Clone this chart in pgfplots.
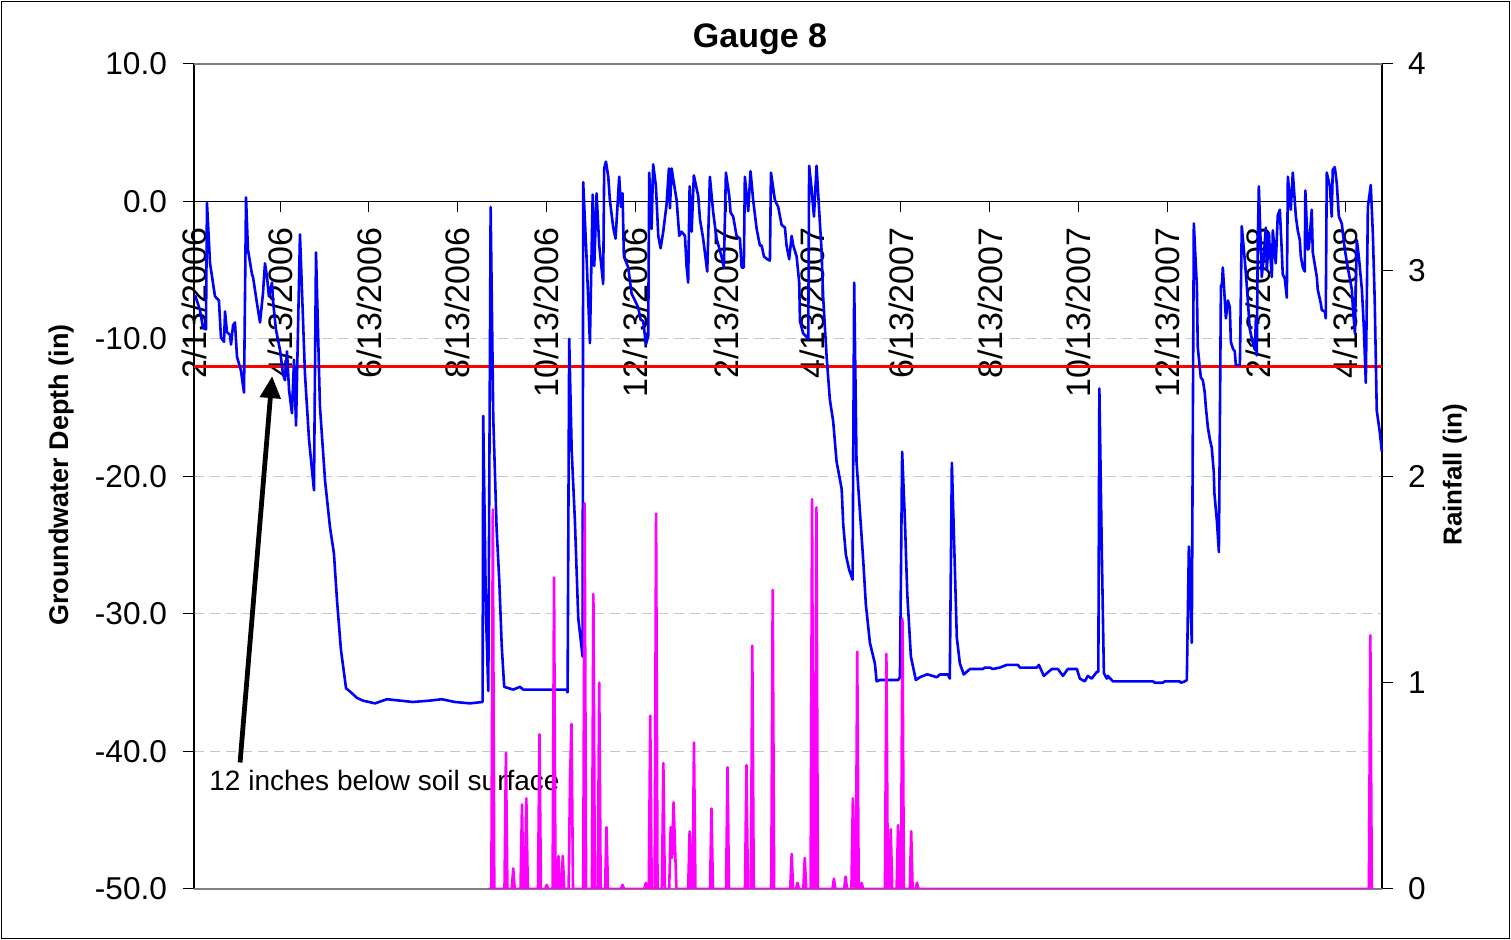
\documentclass[border=0pt]{standalone}
\usepackage{fontspec}
\setmainfont{Liberation Sans}
\usepackage{pgfplots}
\pgfplotsset{compat=1.18}
\usetikzlibrary{arrows.meta}
\definecolor{rainmag}{RGB}{255,0,255}
\definecolor{gwblue}{RGB}{0,0,255}
\definecolor{lvred}{RGB}{255,0,0}
\newcommand{\tks}{\fontsize{15.8}{18}\selectfont}
\newcommand{\xtks}{\fontsize{17}{19}\selectfont}
\begin{document}
\begin{tikzpicture}
\begin{axis}[
  set layers,
  at={(0pt,0pt)}, anchor=south west,
  scale only axis, width=594pt, height=412.5pt,
  xmin=0, xmax=815, ymin=-50, ymax=10,
  axis x line=middle, axis y line=left,
  axis line style={-, black, line width=0.6pt},
  hide obscured x ticks=false,
  xtick={0,59,120,181,242,303,365,424,485,546,607,668,730,790},
  xticklabels={2/13/2006,4/13/2006,6/13/2006,8/13/2006,10/13/2006,12/13/2006,2/13/2007,4/13/2007,6/13/2007,8/13/2007,10/13/2007,12/13/2007,2/13/2008,4/13/2008},
  xticklabel style={rotate=90, anchor=east, font=\xtks, xshift=-4pt},
  ytick={-50,-40,-30,-20,-10,0,10},
  yticklabel style={font=\tks, xshift=-4.5pt, /pgf/number format/.cd, fixed, fixed zerofill, precision=1},
  /pgf/number format/assume math mode=true,
  tick align=outside, major tick length=5.5pt,
  tick style={black, line width=0.5pt},
  ymajorgrids, grid style={gray!45, dash pattern=on 5pt off 3pt, line width=0.5pt},
  clip=false,
]
\addplot[lvred, line width=1.5pt, no marks] coordinates {(0,-12) (815,-12)};
\addplot[gwblue, line width=1.3pt, no marks, line join=round] coordinates {
(0.7,-6.8) (4.1,-7.9) (6.2,-9.2) (8.2,-9.3) (8.9,-0.1) (11.0,-4.5) (14.4,-6.9) (17.1,-7.2) (18.5,-9.9) (20.6,-10.2) (21.3,-8.0) (22.6,-9.5) (24.7,-9.7) (25.4,-10.4) (26.8,-9.0) (28.1,-8.8) (29.5,-11.3) (32.2,-12.3) (34.3,-13.9) (35.7,0.3) (37.0,-3.5) (39.8,-5.3) (40.5,-5.5) (43.2,-7.4) (45.3,-8.8) (47.3,-6.7) (48.7,-4.5) (50.1,-5.5) (51.4,-6.9) (53.5,-5.9) (54.2,-7.2) (56.2,-9.3) (59.0,-10.8) (61.0,-12.5) (62.4,-13.0) (63.8,-10.9) (65.2,-13.7) (67.2,-15.4) (68.6,-11.5) (70.0,-16.3) (72.7,-2.4) (76.1,-12.5) (78.9,-17.3) (82.3,-21.0) (83.7,-3.7) (86.4,-14.9) (89.9,-20.3) (93.3,-23.7) (96.0,-25.6) (98.1,-29.0) (100.8,-32.6) (104.3,-35.4) (107.7,-35.7) (111.8,-36.1) (115.9,-36.3) (124.1,-36.5) (132.4,-36.2) (141.3,-36.3) (150,-36.4) (161.9,-36.3) (170,-36.2) (179.0,-36.4) (189.3,-36.5) (198.0,-36.4)
(198.4,-15.6) (200.3,-30.0) (201.9,-35.6) (203.5,-0.4) (205.3,-15.7) (207.6,-23.8) (209.4,-27.5) (211.1,-32.3) (212.8,-35.3) (219.0,-35.5) (223.6,-35.3) (225.9,-35.5) (240,-35.5) (255.6,-35.5) (256.3,-35.7) (257.4,-10.0) (259.1,-18.1) (261.3,-23.2) (263.6,-30.3) (266.6,-33.1) (267.0,1.4) (269.4,-4.3) (271.6,-10.3) (273.5,0.5) (274.6,-4.7) (276.2,0.6) (278.0,-3.2) (280.7,-6.0) (281.4,2.4) (282.6,2.9) (284.2,1.8) (285.3,0.1) (287.6,-1.9) (289.2,-2.7) (291.7,1.8) (292.9,-0.4) (294.0,0.6) (294.9,-4.0) (297.9,-4.8) (300.2,-6.7) (302.5,-7.2) (304.7,-7.7) (306.4,-8.6) (308.2,-8.7) (310.0,-10.4) (311.6,-9.8) (312.3,2.1) (313.9,-2.0) (315.0,2.7) (316.9,1.1) (318.5,-2.5) (320.1,-3.4) (321.9,-2.2) (324.2,-0.2) (325.8,2.4) (326.5,-0.5) (327.7,2.4) (328.8,1.6) (331.1,0.1) (332.9,-2.5) (334.5,-2.2) (336.8,-2.5) (337.9,-4.7) (339.0,-5.9) (340.0,1.1) (341.4,-2.2) (342.9,1.9) (345.9,0.4) (347.1,-1.3) (349.3,-2.7) (352.1,-5.1) (353.9,1.8) (356.2,-0.8) (358.5,-2.7) (361.9,-4.0) (363.5,-4.8) (364.9,2.1) (367.2,0.4) (368.1,-0.8) (369.9,-1.1) (372.2,-2.5) (374.5,-2.7) (375.7,-4.8) (377.2,-4.8) (377.9,1.8) (380.2,-0.7) (381.8,2.2) (383.6,0.1) (386.0,-2.0) (388.2,-3.2) (389.4,-3.2) (391.0,-4.0) (393.2,-4.2) (395.1,-4.3) (395.8,2.1) (398.5,0.1) (400.8,-0.4) (403.1,-1.7) (405.4,-1.9) (406.5,-3.2) (408.3,-4.2) (410.0,-2.5) (411.1,-3.2) (413.4,-4.0) (415.2,-5.9) (415.7,-8.7) (417.9,-9.6) (419.8,-9.8) (421.4,-10.0) (422.0,2.6) (423.7,0.9) (425.3,-1.1) (427.1,2.6) (428.9,-0.7) (430.5,-3.5) (431.6,-6.9) (434.0,-11.3) (436.2,-14.4) (438.5,-16.0) (440.8,-18.9) (444.3,-20.9) (445.4,-23.5) (447.2,-25.7) (449.5,-26.8) (451.8,-27.5) (452.9,-5.9) (454.5,-18.9) (456.8,-22.5) (459.1,-26.1) (460.9,-29.3) (463.7,-32.1) (467.1,-33.6) (468.3,-34.9) (470.5,-34.8) (483.1,-34.8) (484.3,-34.6) (485.8,-18.2) (487.7,-23.2) (489.3,-28.5) (491.8,-33.1) (495.2,-34.8) (498.0,-34.6) (502.6,-34.4) (503.5,-34.4) (509.6,-34.6) (511.7,-34.4) (517.2,-34.4) (518.5,-34.7) (519.9,-19.0) (522.0,-26.8) (523.3,-31.7) (525.4,-33.6) (528.1,-34.4) (532.3,-34.0) (541.2,-34.0) (542.5,-33.9) (546.0,-33.9) (548.0,-34.0) (552.8,-33.9) (557.6,-33.7) (565.2,-33.7) (566.6,-33.9) (578.2,-33.9) (579.6,-33.7) (583.0,-34.5) (588.5,-34.0) (592.6,-34.0) (596.1,-34.5) (599.5,-34.0) (605.7,-34.0) (607.7,-34.7) (611.1,-34.9) (613.2,-34.5) (615.9,-34.7) (619.4,-34.2) (620.4,-34.2) (621.1,-13.6) (622.8,-25.6) (624.2,-34.3) (626.2,-34.7) (626.9,-34.5) (630.4,-34.9) (657.8,-34.9) (659.2,-35.0) (664.6,-35.0) (666.0,-34.9) (676.3,-34.9) (677.0,-35.0) (679.7,-34.9) (681.1,-34.8) (682.5,-25.1) (684.5,-32.1) (685.9,-1.6)
(688.0,-6.2) (688.6,-10.6) (690.7,-12.8) (692.1,-13.0) (693.4,-13.9) (694.1,-14.9) (695.5,-16.4) (696.9,-17.3) (698.2,-17.9) (699.6,-19.7) (700.0,-21.2) (701.7,-23.2) (703.1,-25.5) (704.5,-6.1) (705.1,-6.2) (705.8,-4.8) (707.9,-8.5) (709.3,-7.2) (710.6,-7.7) (711.3,-10.2) (712.7,-10.7) (714.0,-10.9) (714.7,-11.9) (717.5,-11.9) (718.8,-1.8) (720.9,-4.3) (722.3,-6.2) (724.3,-9.3) (726.4,-10.3) (727.8,-10.8) (728.5,-8.4) (729.1,-11.2) (729.8,-2.8) (730.5,1.1) (732.5,-5.5) (733.9,-4.0) (735.3,-1.9) (736.0,-5.0) (737.3,-2.3) (739.4,-5.5) (740.1,-2.1) (742.1,-4.5) (743.5,-1.0) (744.9,-0.6) (746.2,-3.5) (746.9,-5.3) (748.3,-5.6) (749.7,-7.0) (750.4,1.8) (752.4,-0.6) (753.8,2.1) (755.9,-1.1) (757.2,-2.1) (758.6,-2.8) (759.3,-4.0) (760.7,-4.8) (762.0,-5.1) (762.4,0.8) (764.1,-3.5) (764.8,-3.4) (766.8,-0.6) (767.5,-3.7) (770.3,-5.5) (770.9,-6.4) (773.0,-7.4) (773.7,-7.9) (775.8,-8.0) (776.4,-8.5) (777.1,2.1) (779.2,1.1) (780.5,-1.1) (781.2,2.3) (782.6,2.5) (784.0,1.3) (785.4,-1.1) (787.4,-1.6) (789.5,-3.5) (791.5,-4.8) (794.3,-6.4) (795.0,-7.7) (796.4,-9.6) (797.7,-2.8) (799.1,-4.0) (801.2,-6.4) (802.5,-9.1) (803.9,-13.2) (805.3,-0.4) (807.3,1.2) (808.7,-2.3) (810.0,-7.2) (811.4,-15.2) (813.5,-16.8) (814.9,-18.2)
};
\draw[gray, line width=0.6pt] (rel axis cs:0,1) -- (rel axis cs:1,1);
\draw[gray, line width=0.6pt] (rel axis cs:0,0) -- (rel axis cs:1,0);
\draw[-{Triangle[length=11pt,width=10pt]}, line width=2.4pt] (axis cs:31.6,-40.8) -- (axis cs:53.6,-12.7);
\node[anchor=west, inner sep=0pt, font=\fontsize{14}{16}\selectfont] at (axis cs:10.3,-42.1) {12 inches below soil surface};
\end{axis}
\begin{axis}[
  set layers,
  at={(0pt,0pt)}, anchor=south west,
  scale only axis, width=594pt, height=412.5pt,
  xmin=0, xmax=815, ymin=0, ymax=4,
  axis x line=none, axis y line=right,
  axis line style={-, black, line width=0.6pt},
  ytick={0,1,2,3,4},
  yticklabel style={font=\tks, xshift=4pt},
  /pgf/number format/assume math mode=true,
  tick align=outside, major tick length=5.5pt,
  tick style={black, line width=0.5pt},
]
\addplot[rainmag, line width=1.3pt, no marks, line join=round] coordinates {
(202,0) (204,0) (205,1.84) (206,0) (213,0) (214,0.66) (215,0) (218,0) (219,0.10) (220,0) (224,0) (225,0.41) (226,0) (227,0) (228,0.44) (229,0) (236,0) (237,0.75) (238,0) (241,0) (242,0.02) (243,0) (246,0) (247,1.51) (248,0) (249,0) (250,0.16) (251,0) (252,0) (253,0.16) (254,0) (257,0) (258,0.55) (259,0.80) (260,0) (267,0) (268,1.87) (269,0) (273,0) (274,1.43) (275,0) (277,0) (278,1.00) (279,0) (282,0) (283,0.30) (284,0) (293,0) (294,0.02) (295,0) (309,0) (310,0.03) (311,0) (312,0) (313,0.84) (314,0) (316,0) (317,1.82) (318,0) (321,0) (322,0.61) (323,0) (326,0) (327,0.30) (328,0.15) (329,0.42) (330,0.2) (331,0) (339,0) (340,0.28) (341,0) (342,0) (343,0.71) (344,0) (354,0) (355,0.39) (356,0) (365,0) (366,0.59) (367,0) (378,0) (379,0.60) (380,0) (382,0) (383,1.18) (384,0) (396,0) (397,1.45) (398,0) (409,0) (410,0.17) (411,0) (413,0) (414,0.03) (415,0) (418,0) (419,0.15) (420,0) (423,0) (424,1.89) (425,0) (426,0) (427,1.85) (428,0) (438,0) (439,0.05) (440,0) (446,0) (447,0.06) (448,0) (451,0) (452,0.44) (453,0) (454,0) (455,1.15) (456,0) (457,0) (458,0.03) (459,0) (474,0) (475,1.14) (476,0) (477,0) (478,0.29) (479,0) (482,0) (483,0.31) (484,0) (485,0) (486,1.31) (487,0) (491,0) (492,0.28) (493,0) (495,0) (496,0.03) (497,0) (806,0) (807,1.23) (808,0) (809,0)
};
\end{axis}
\node[font=\bfseries\fontsize{17}{20}\selectfont] at (283pt,425pt) {Gauge 8};
\node[rotate=90, font=\bfseries\fontsize{13.5}{16}\selectfont] at (-66pt,207pt) {Groundwater Depth (in)};
\node[rotate=90, font=\bfseries\fontsize{13}{16}\selectfont] at (630.5pt,207pt) {Rainfall (in)};
\pgfresetboundingbox
\useasboundingbox (-97pt,-25.5pt) rectangle (658.5pt,444.5pt);
\draw[black, line width=0.6pt] (-96.2pt,-24.7pt) rectangle (657.7pt,443.7pt);
\end{tikzpicture}
\end{document}
